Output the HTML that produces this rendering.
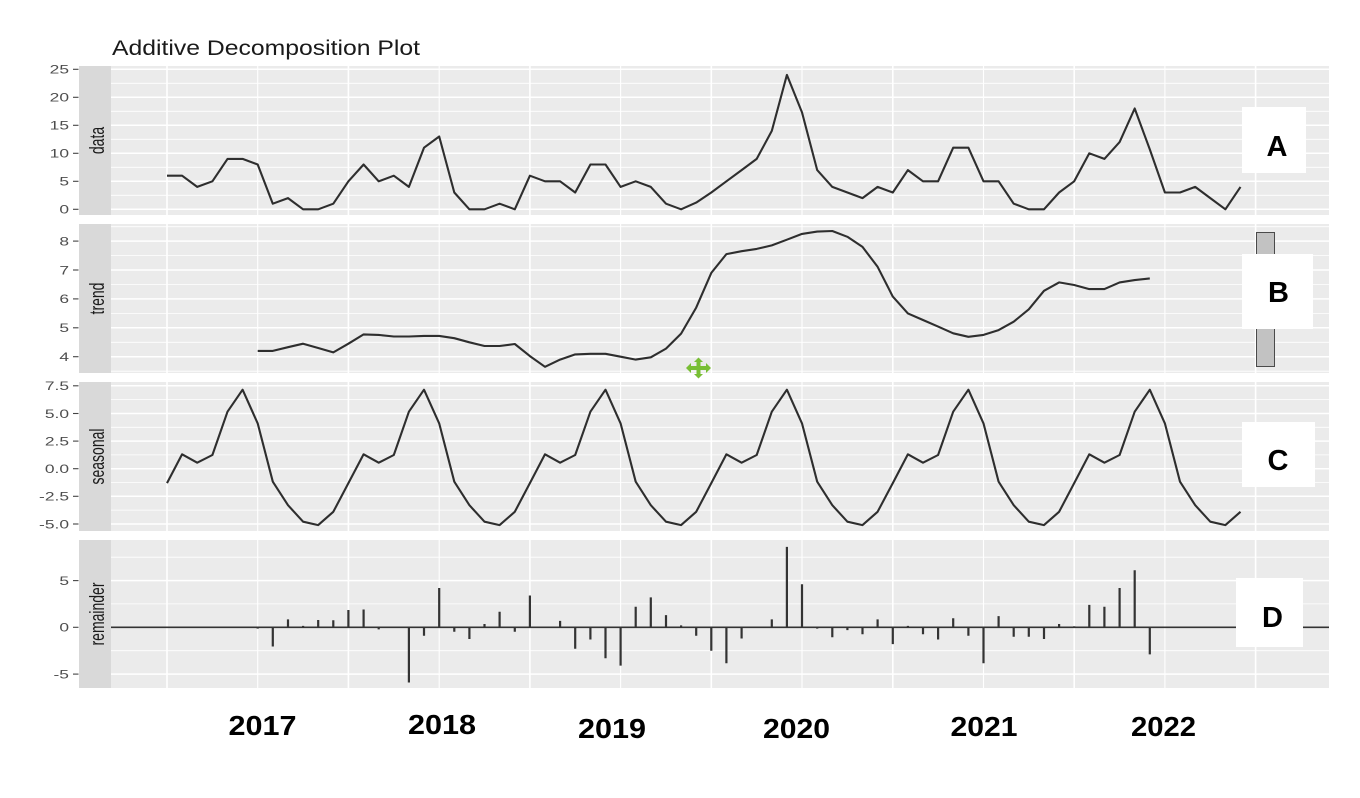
<!DOCTYPE html>
<html>
<head>
<meta charset="utf-8">
<style>
  html, body { margin:0; padding:0; background:#ffffff; }
  body { width:1360px; height:798px; overflow:hidden; }
  svg { display:block; }
  .tk { font-family:"Liberation Sans", Arial, sans-serif; font-size:12px; fill:#4d4d4d; }
  .st { font-family:"Liberation Sans", Arial, sans-serif; font-size:14px; fill:#1a1a1a; }
  .yr { font-family:"Liberation Sans", Arial, sans-serif; font-size:28px; font-weight:bold; fill:#000; }
  .lt { font-family:"Liberation Sans", Arial, sans-serif; font-size:29px; font-weight:bold; fill:#000; }
</style>
</head>
<body>
<svg width="1360" height="798" viewBox="0 0 1360 798" xmlns="http://www.w3.org/2000/svg">
  <rect x="0" y="0" width="1360" height="798" fill="#ffffff"/>

  <!-- Title -->
  <text x="112" y="55" font-family="Liberation Sans, Arial, sans-serif" font-size="21" fill="#1a1a1a" textLength="308" lengthAdjust="spacingAndGlyphs">Additive Decomposition Plot</text>

  <!-- Panel backgrounds -->
  <rect x="111" y="66" width="1218" height="149" fill="#ebebeb"/>
  <rect x="111" y="224" width="1218" height="149" fill="#ebebeb"/>
  <rect x="111" y="382" width="1218" height="149" fill="#ebebeb"/>
  <rect x="111" y="540" width="1218" height="148" fill="#ebebeb"/>

  <!-- Strips -->
  <rect x="79" y="66" width="32" height="149" fill="#d9d9d9"/>
  <rect x="79" y="224" width="32" height="149" fill="#d9d9d9"/>
  <rect x="79" y="382" width="32" height="149" fill="#d9d9d9"/>
  <rect x="79" y="540" width="32" height="148" fill="#d9d9d9"/>

  <!-- Horizontal grid: minor -->
  <g stroke="#ffffff" stroke-width="0.8">
    <line x1="111" x2="1329" y1="195.3" y2="195.3"/>
    <line x1="111" x2="1329" y1="167.3" y2="167.3"/>
    <line x1="111" x2="1329" y1="139.3" y2="139.3"/>
    <line x1="111" x2="1329" y1="111.3" y2="111.3"/>
    <line x1="111" x2="1329" y1="83.3" y2="83.3"/>

    <line x1="111" x2="1329" y1="371.2" y2="371.2"/>
    <line x1="111" x2="1329" y1="342.3" y2="342.3"/>
    <line x1="111" x2="1329" y1="313.4" y2="313.4"/>
    <line x1="111" x2="1329" y1="284.4" y2="284.4"/>
    <line x1="111" x2="1329" y1="255.6" y2="255.6"/>
    <line x1="111" x2="1329" y1="226.7" y2="226.7"/>

    <line x1="111" x2="1329" y1="399.6" y2="399.6"/>
    <line x1="111" x2="1329" y1="427.3" y2="427.3"/>
    <line x1="111" x2="1329" y1="454.9" y2="454.9"/>
    <line x1="111" x2="1329" y1="482.5" y2="482.5"/>
    <line x1="111" x2="1329" y1="510.1" y2="510.1"/>

    <line x1="111" x2="1329" y1="557.2" y2="557.2"/>
    <line x1="111" x2="1329" y1="603.9" y2="603.9"/>
    <line x1="111" x2="1329" y1="650.7" y2="650.7"/>
  </g>
  <!-- Horizontal grid: major -->
  <g stroke="#ffffff" stroke-width="1.5">
    <line x1="111" x2="1329" y1="209.3" y2="209.3"/>
    <line x1="111" x2="1329" y1="181.3" y2="181.3"/>
    <line x1="111" x2="1329" y1="153.3" y2="153.3"/>
    <line x1="111" x2="1329" y1="125.3" y2="125.3"/>
    <line x1="111" x2="1329" y1="97.3" y2="97.3"/>
    <line x1="111" x2="1329" y1="69.3" y2="69.3"/>

    <line x1="111" x2="1329" y1="356.7" y2="356.7"/>
    <line x1="111" x2="1329" y1="327.8" y2="327.8"/>
    <line x1="111" x2="1329" y1="298.9" y2="298.9"/>
    <line x1="111" x2="1329" y1="270.0" y2="270.0"/>
    <line x1="111" x2="1329" y1="241.1" y2="241.1"/>

    <line x1="111" x2="1329" y1="385.8" y2="385.8"/>
    <line x1="111" x2="1329" y1="413.5" y2="413.5"/>
    <line x1="111" x2="1329" y1="441.1" y2="441.1"/>
    <line x1="111" x2="1329" y1="468.7" y2="468.7"/>
    <line x1="111" x2="1329" y1="496.3" y2="496.3"/>
    <line x1="111" x2="1329" y1="524.0" y2="524.0"/>

    <line x1="111" x2="1329" y1="580.6" y2="580.6"/>
    <line x1="111" x2="1329" y1="674.1" y2="674.1"/>
  </g>

  <!-- Vertical grid -->
  <g stroke="#ffffff">
    <g stroke-width="1.6">
      <line x1="167" x2="167" y1="66" y2="215"/><line x1="167" x2="167" y1="224" y2="373"/><line x1="167" x2="167" y1="382" y2="531"/><line x1="167" x2="167" y1="540" y2="688"/>
      <line x1="348.4" x2="348.4" y1="66" y2="215"/><line x1="348.4" x2="348.4" y1="224" y2="373"/><line x1="348.4" x2="348.4" y1="382" y2="531"/><line x1="348.4" x2="348.4" y1="540" y2="688"/>
      <line x1="529.9" x2="529.9" y1="66" y2="215"/><line x1="529.9" x2="529.9" y1="224" y2="373"/><line x1="529.9" x2="529.9" y1="382" y2="531"/><line x1="529.9" x2="529.9" y1="540" y2="688"/>
      <line x1="711.3" x2="711.3" y1="66" y2="215"/><line x1="711.3" x2="711.3" y1="224" y2="373"/><line x1="711.3" x2="711.3" y1="382" y2="531"/><line x1="711.3" x2="711.3" y1="540" y2="688"/>
      <line x1="892.8" x2="892.8" y1="66" y2="215"/><line x1="892.8" x2="892.8" y1="224" y2="373"/><line x1="892.8" x2="892.8" y1="382" y2="531"/><line x1="892.8" x2="892.8" y1="540" y2="688"/>
      <line x1="1074.2" x2="1074.2" y1="66" y2="215"/><line x1="1074.2" x2="1074.2" y1="224" y2="373"/><line x1="1074.2" x2="1074.2" y1="382" y2="531"/><line x1="1074.2" x2="1074.2" y1="540" y2="688"/>
      <line x1="1255.6" x2="1255.6" y1="66" y2="215"/><line x1="1255.6" x2="1255.6" y1="224" y2="373"/><line x1="1255.6" x2="1255.6" y1="382" y2="531"/><line x1="1255.6" x2="1255.6" y1="540" y2="688"/>
    </g>
    <g stroke-width="1.1">
      <line x1="257.7" x2="257.7" y1="66" y2="215"/><line x1="257.7" x2="257.7" y1="224" y2="373"/><line x1="257.7" x2="257.7" y1="382" y2="531"/><line x1="257.7" x2="257.7" y1="540" y2="688"/>
      <line x1="439.2" x2="439.2" y1="66" y2="215"/><line x1="439.2" x2="439.2" y1="224" y2="373"/><line x1="439.2" x2="439.2" y1="382" y2="531"/><line x1="439.2" x2="439.2" y1="540" y2="688"/>
      <line x1="620.6" x2="620.6" y1="66" y2="215"/><line x1="620.6" x2="620.6" y1="224" y2="373"/><line x1="620.6" x2="620.6" y1="382" y2="531"/><line x1="620.6" x2="620.6" y1="540" y2="688"/>
      <line x1="802" x2="802" y1="66" y2="215"/><line x1="802" x2="802" y1="224" y2="373"/><line x1="802" x2="802" y1="382" y2="531"/><line x1="802" x2="802" y1="540" y2="688"/>
      <line x1="983.5" x2="983.5" y1="66" y2="215"/><line x1="983.5" x2="983.5" y1="224" y2="373"/><line x1="983.5" x2="983.5" y1="382" y2="531"/><line x1="983.5" x2="983.5" y1="540" y2="688"/>
      <line x1="1164.9" x2="1164.9" y1="66" y2="215"/><line x1="1164.9" x2="1164.9" y1="224" y2="373"/><line x1="1164.9" x2="1164.9" y1="382" y2="531"/><line x1="1164.9" x2="1164.9" y1="540" y2="688"/>
    </g>
  </g>

  <!-- Tick marks -->
  <g stroke="#444" stroke-width="1.1">
    <line x1="73" x2="78.5" y1="209.3" y2="209.3"/><line x1="73" x2="78.5" y1="181.3" y2="181.3"/><line x1="73" x2="78.5" y1="153.3" y2="153.3"/><line x1="73" x2="78.5" y1="125.3" y2="125.3"/><line x1="73" x2="78.5" y1="97.3" y2="97.3"/><line x1="73" x2="78.5" y1="69.3" y2="69.3"/>
    <line x1="73" x2="78.5" y1="356.7" y2="356.7"/><line x1="73" x2="78.5" y1="327.8" y2="327.8"/><line x1="73" x2="78.5" y1="298.9" y2="298.9"/><line x1="73" x2="78.5" y1="270.0" y2="270.0"/><line x1="73" x2="78.5" y1="241.1" y2="241.1"/>
    <line x1="73" x2="78.5" y1="385.8" y2="385.8"/><line x1="73" x2="78.5" y1="413.5" y2="413.5"/><line x1="73" x2="78.5" y1="441.1" y2="441.1"/><line x1="73" x2="78.5" y1="468.7" y2="468.7"/><line x1="73" x2="78.5" y1="496.3" y2="496.3"/><line x1="73" x2="78.5" y1="524.0" y2="524.0"/>
    <line x1="73" x2="78.5" y1="580.6" y2="580.6"/><line x1="73" x2="78.5" y1="627.3" y2="627.3"/><line x1="73" x2="78.5" y1="674.1" y2="674.1"/>
  </g>

  <!-- Tick labels -->
  <g class="tk" text-anchor="end">
    <text transform="translate(69,213.6) scale(1.45,1)">0</text>
    <text transform="translate(69,185.6) scale(1.45,1)">5</text>
    <text transform="translate(69,157.6) scale(1.45,1)">10</text>
    <text transform="translate(69,129.6) scale(1.45,1)">15</text>
    <text transform="translate(69,101.6) scale(1.45,1)">20</text>
    <text transform="translate(69,73.6) scale(1.45,1)">25</text>

    <text transform="translate(69,361.0) scale(1.45,1)">4</text>
    <text transform="translate(69,332.1) scale(1.45,1)">5</text>
    <text transform="translate(69,303.2) scale(1.45,1)">6</text>
    <text transform="translate(69,274.3) scale(1.45,1)">7</text>
    <text transform="translate(69,245.4) scale(1.45,1)">8</text>

    <text transform="translate(69,390.1) scale(1.45,1)">7.5</text>
    <text transform="translate(69,417.8) scale(1.45,1)">5.0</text>
    <text transform="translate(69,445.4) scale(1.45,1)">2.5</text>
    <text transform="translate(69,473.0) scale(1.45,1)">0.0</text>
    <text transform="translate(69,500.6) scale(1.45,1)">-2.5</text>
    <text transform="translate(69,528.3) scale(1.45,1)">-5.0</text>

    <text transform="translate(69,584.9) scale(1.45,1)">5</text>
    <text transform="translate(69,631.6) scale(1.45,1)">0</text>
    <text transform="translate(69,678.4) scale(1.45,1)">-5</text>
  </g>

  <!-- Strip labels -->
  <g class="st" text-anchor="middle">
    <text transform="translate(104,140.5) scale(1.45,1) rotate(-90)">data</text>
    <text transform="translate(104,298.5) scale(1.45,1) rotate(-90)">trend</text>
    <text transform="translate(104,456.5) scale(1.45,1) rotate(-90)">seasonal</text>
    <text transform="translate(104,614) scale(1.45,1) rotate(-90)">remainder</text>
  </g>

  <!-- Series A: data -->
  <polyline fill="none" stroke="#2e2e2e" stroke-width="2.1" stroke-linejoin="round" points="167.0,175.7 182.1,175.7 197.2,186.9 212.4,181.3 227.5,158.9 242.6,158.9 257.7,164.5 272.8,203.7 288.0,198.1 303.1,209.3 318.2,209.3 333.3,203.7 348.4,181.3 363.6,164.5 378.7,181.3 393.8,175.7 408.9,186.9 424.0,147.7 439.2,136.5 454.3,192.5 469.4,209.3 484.5,209.3 499.6,203.7 514.8,209.3 529.9,175.7 545.0,181.3 560.1,181.3 575.2,192.5 590.4,164.5 605.5,164.5 620.6,186.9 635.7,181.3 650.8,186.9 666.0,203.7 681.1,209.3 696.2,202.6 711.3,192.5 726.4,181.3 741.6,170.1 756.7,158.9 771.8,130.9 786.9,74.9 802.0,112.4 817.2,170.1 832.3,186.9 847.4,192.5 862.5,198.1 877.6,186.9 892.8,192.5 907.9,170.1 923.0,181.3 938.1,181.3 953.2,147.7 968.4,147.7 983.5,181.3 998.6,181.3 1013.7,203.7 1028.8,209.3 1044.0,209.3 1059.1,192.5 1074.2,181.3 1089.3,153.3 1104.4,158.9 1119.6,142.1 1134.7,108.5 1149.8,149.4 1164.9,192.5 1180.0,192.5 1195.2,186.9 1210.3,198.1 1225.4,209.3 1240.5,186.9"/>

  <!-- Series B: trend -->
  <polyline fill="none" stroke="#2e2e2e" stroke-width="2.1" stroke-linejoin="round" points="257.7,350.9 272.8,350.9 288.0,347.2 303.1,343.7 318.2,348.0 333.3,352.4 348.4,343.7 363.6,334.4 378.7,334.9 393.8,336.5 408.9,336.5 424.0,335.9 439.2,335.9 454.3,338.2 469.4,342.3 484.5,346.0 499.6,346.0 514.8,344.0 529.9,356.1 545.0,366.8 560.1,359.6 575.2,354.4 590.4,353.8 605.5,353.8 620.6,356.7 635.7,359.6 650.8,357.3 666.0,348.6 681.1,333.6 696.2,307.6 711.3,272.9 726.4,254.1 741.6,251.2 756.7,248.9 771.8,245.4 786.9,239.7 802.0,233.9 817.2,231.6 832.3,231.0 847.4,236.8 862.5,246.9 877.6,266.8 892.8,296.6 907.9,313.4 923.0,320.0 938.1,326.6 953.2,333.3 968.4,336.8 983.5,334.9 998.6,330.1 1013.7,321.7 1028.8,309.3 1044.0,290.8 1059.1,282.4 1074.2,285.0 1089.3,289.1 1104.4,289.1 1119.6,282.4 1134.7,280.1 1149.8,278.4"/>

  <!-- Series C: seasonal -->
  <polyline fill="none" stroke="#2e2e2e" stroke-width="2.1" stroke-linejoin="round" points="167.0,483.1 182.1,454.3 197.2,462.7 212.4,455.0 227.5,411.7 242.6,389.7 257.7,423.4 272.8,481.7 288.0,505.2 303.1,521.7 318.2,525.1 333.3,511.8 348.4,483.1 363.6,454.3 378.7,462.7 393.8,455.0 408.9,411.7 424.0,389.7 439.2,423.4 454.3,481.7 469.4,505.2 484.5,521.7 499.6,525.1 514.8,511.8 529.9,483.1 545.0,454.3 560.1,462.7 575.2,455.0 590.4,411.7 605.5,389.7 620.6,423.4 635.7,481.7 650.8,505.2 666.0,521.7 681.1,525.1 696.2,511.8 711.3,483.1 726.4,454.3 741.6,462.7 756.7,455.0 771.8,411.7 786.9,389.7 802.0,423.4 817.2,481.7 832.3,505.2 847.4,521.7 862.5,525.1 877.6,511.8 892.8,483.1 907.9,454.3 923.0,462.7 938.1,455.0 953.2,411.7 968.4,389.7 983.5,423.4 998.6,481.7 1013.7,505.2 1028.8,521.7 1044.0,525.1 1059.1,511.8 1074.2,483.1 1089.3,454.3 1104.4,462.7 1119.6,455.0 1134.7,411.7 1149.8,389.7 1164.9,423.4 1180.0,481.7 1195.2,505.2 1210.3,521.7 1225.4,525.1 1240.5,511.8"/>

  <!-- Series D: remainder -->
  <line x1="111" x2="1329" y1="627.3" y2="627.3" stroke="#333" stroke-width="1.7"/>
  <path fill="none" stroke="#333" stroke-width="2.2" d="
    M257.7 627.3 V628.6 M272.8 627.3 V646.5 M288.0 627.3 V619.4 M303.1 627.3 V625.9
    M318.2 627.3 V620.0 M333.3 627.3 V620.3 M348.4 627.3 V610.0 M363.6 627.3 V609.5
    M378.7 627.3 V629.4 M408.9 627.3 V682.5 M424.0 627.3 V635.7 M439.2 627.3 V588.0
    M454.3 627.3 V631.7 M469.4 627.3 V639.0 M484.5 627.3 V624.0 M499.6 627.3 V611.7
    M514.8 627.3 V631.7 M529.9 627.3 V595.5 M560.1 627.3 V620.9 M575.2 627.3 V648.8
    M590.4 627.3 V639.5 M605.5 627.3 V658.2 M620.6 627.3 V665.6 M635.7 627.3 V606.7
    M650.8 627.3 V597.4 M666.0 627.3 V615.1 M681.1 627.3 V625.4 M696.2 627.3 V635.7
    M711.3 627.3 V650.7 M726.4 627.3 V663.3 M741.6 627.3 V638.5 M771.8 627.3 V619.4
    M786.9 627.3 V546.9 M802.0 627.3 V584.3 M817.2 627.3 V628.6 M832.3 627.3 V637.3
    M847.4 627.3 V630.1 M862.5 627.3 V634.3 M877.6 627.3 V619.4 M892.8 627.3 V644.1
    M907.9 627.3 V625.9 M923.0 627.3 V634.3 M938.1 627.3 V639.5 M953.2 627.3 V618.3
    M968.4 627.3 V635.7 M983.5 627.3 V663.3 M998.6 627.3 V616.1 M1013.7 627.3 V636.7
    M1028.8 627.3 V636.7 M1044.0 627.3 V639.0 M1059.1 627.3 V624.0 M1074.2 627.3 V626.3
    M1089.3 627.3 V604.9 M1104.4 627.3 V606.7 M1119.6 627.3 V588.0 M1134.7 627.3 V570.3
    M1149.8 627.3 V654.4"/>

  <!-- Gray rectangle in panel B -->
  <rect x="1256.5" y="232.5" width="18" height="134" fill="#c2c2c2" stroke="#4a4a4a" stroke-width="1"/>

  <!-- Letter boxes -->
  <rect x="1242" y="107" width="64" height="66" fill="#ffffff"/>
  <rect x="1242" y="254" width="71" height="75" fill="#ffffff"/>
  <rect x="1242" y="422" width="73" height="65" fill="#ffffff"/>
  <rect x="1236" y="578" width="67" height="69" fill="#ffffff"/>
  <g class="lt" text-anchor="middle">
    <text x="1277" y="156">A</text>
    <text x="1278.5" y="302">B</text>
    <text x="1278" y="470">C</text>
    <text x="1272.5" y="627">D</text>
  </g>

  <!-- Green move icon -->
  <g fill="#78be34">
    <rect x="690" y="366" width="17" height="4"/>
    <rect x="696.5" y="361" width="4" height="14"/>
    <polygon points="686,368 691,363 691,373"/>
    <polygon points="711,368 706,363 706,373"/>
    <polygon points="698.5,357.5 694,362 703,362"/>
    <polygon points="698.5,378.5 694,374 703,374"/>
  </g>

  <!-- Year labels -->
  <g class="yr" text-anchor="middle">
    <text x="262.5" y="735" textLength="68" lengthAdjust="spacingAndGlyphs">2017</text>
    <text x="442" y="734" textLength="68" lengthAdjust="spacingAndGlyphs">2018</text>
    <text x="612" y="738" textLength="68" lengthAdjust="spacingAndGlyphs">2019</text>
    <text x="796.5" y="738" textLength="67" lengthAdjust="spacingAndGlyphs">2020</text>
    <text x="984" y="736" textLength="67" lengthAdjust="spacingAndGlyphs">2021</text>
    <text x="1163.5" y="736" textLength="65" lengthAdjust="spacingAndGlyphs">2022</text>
  </g>
</svg>
</body>
</html>
